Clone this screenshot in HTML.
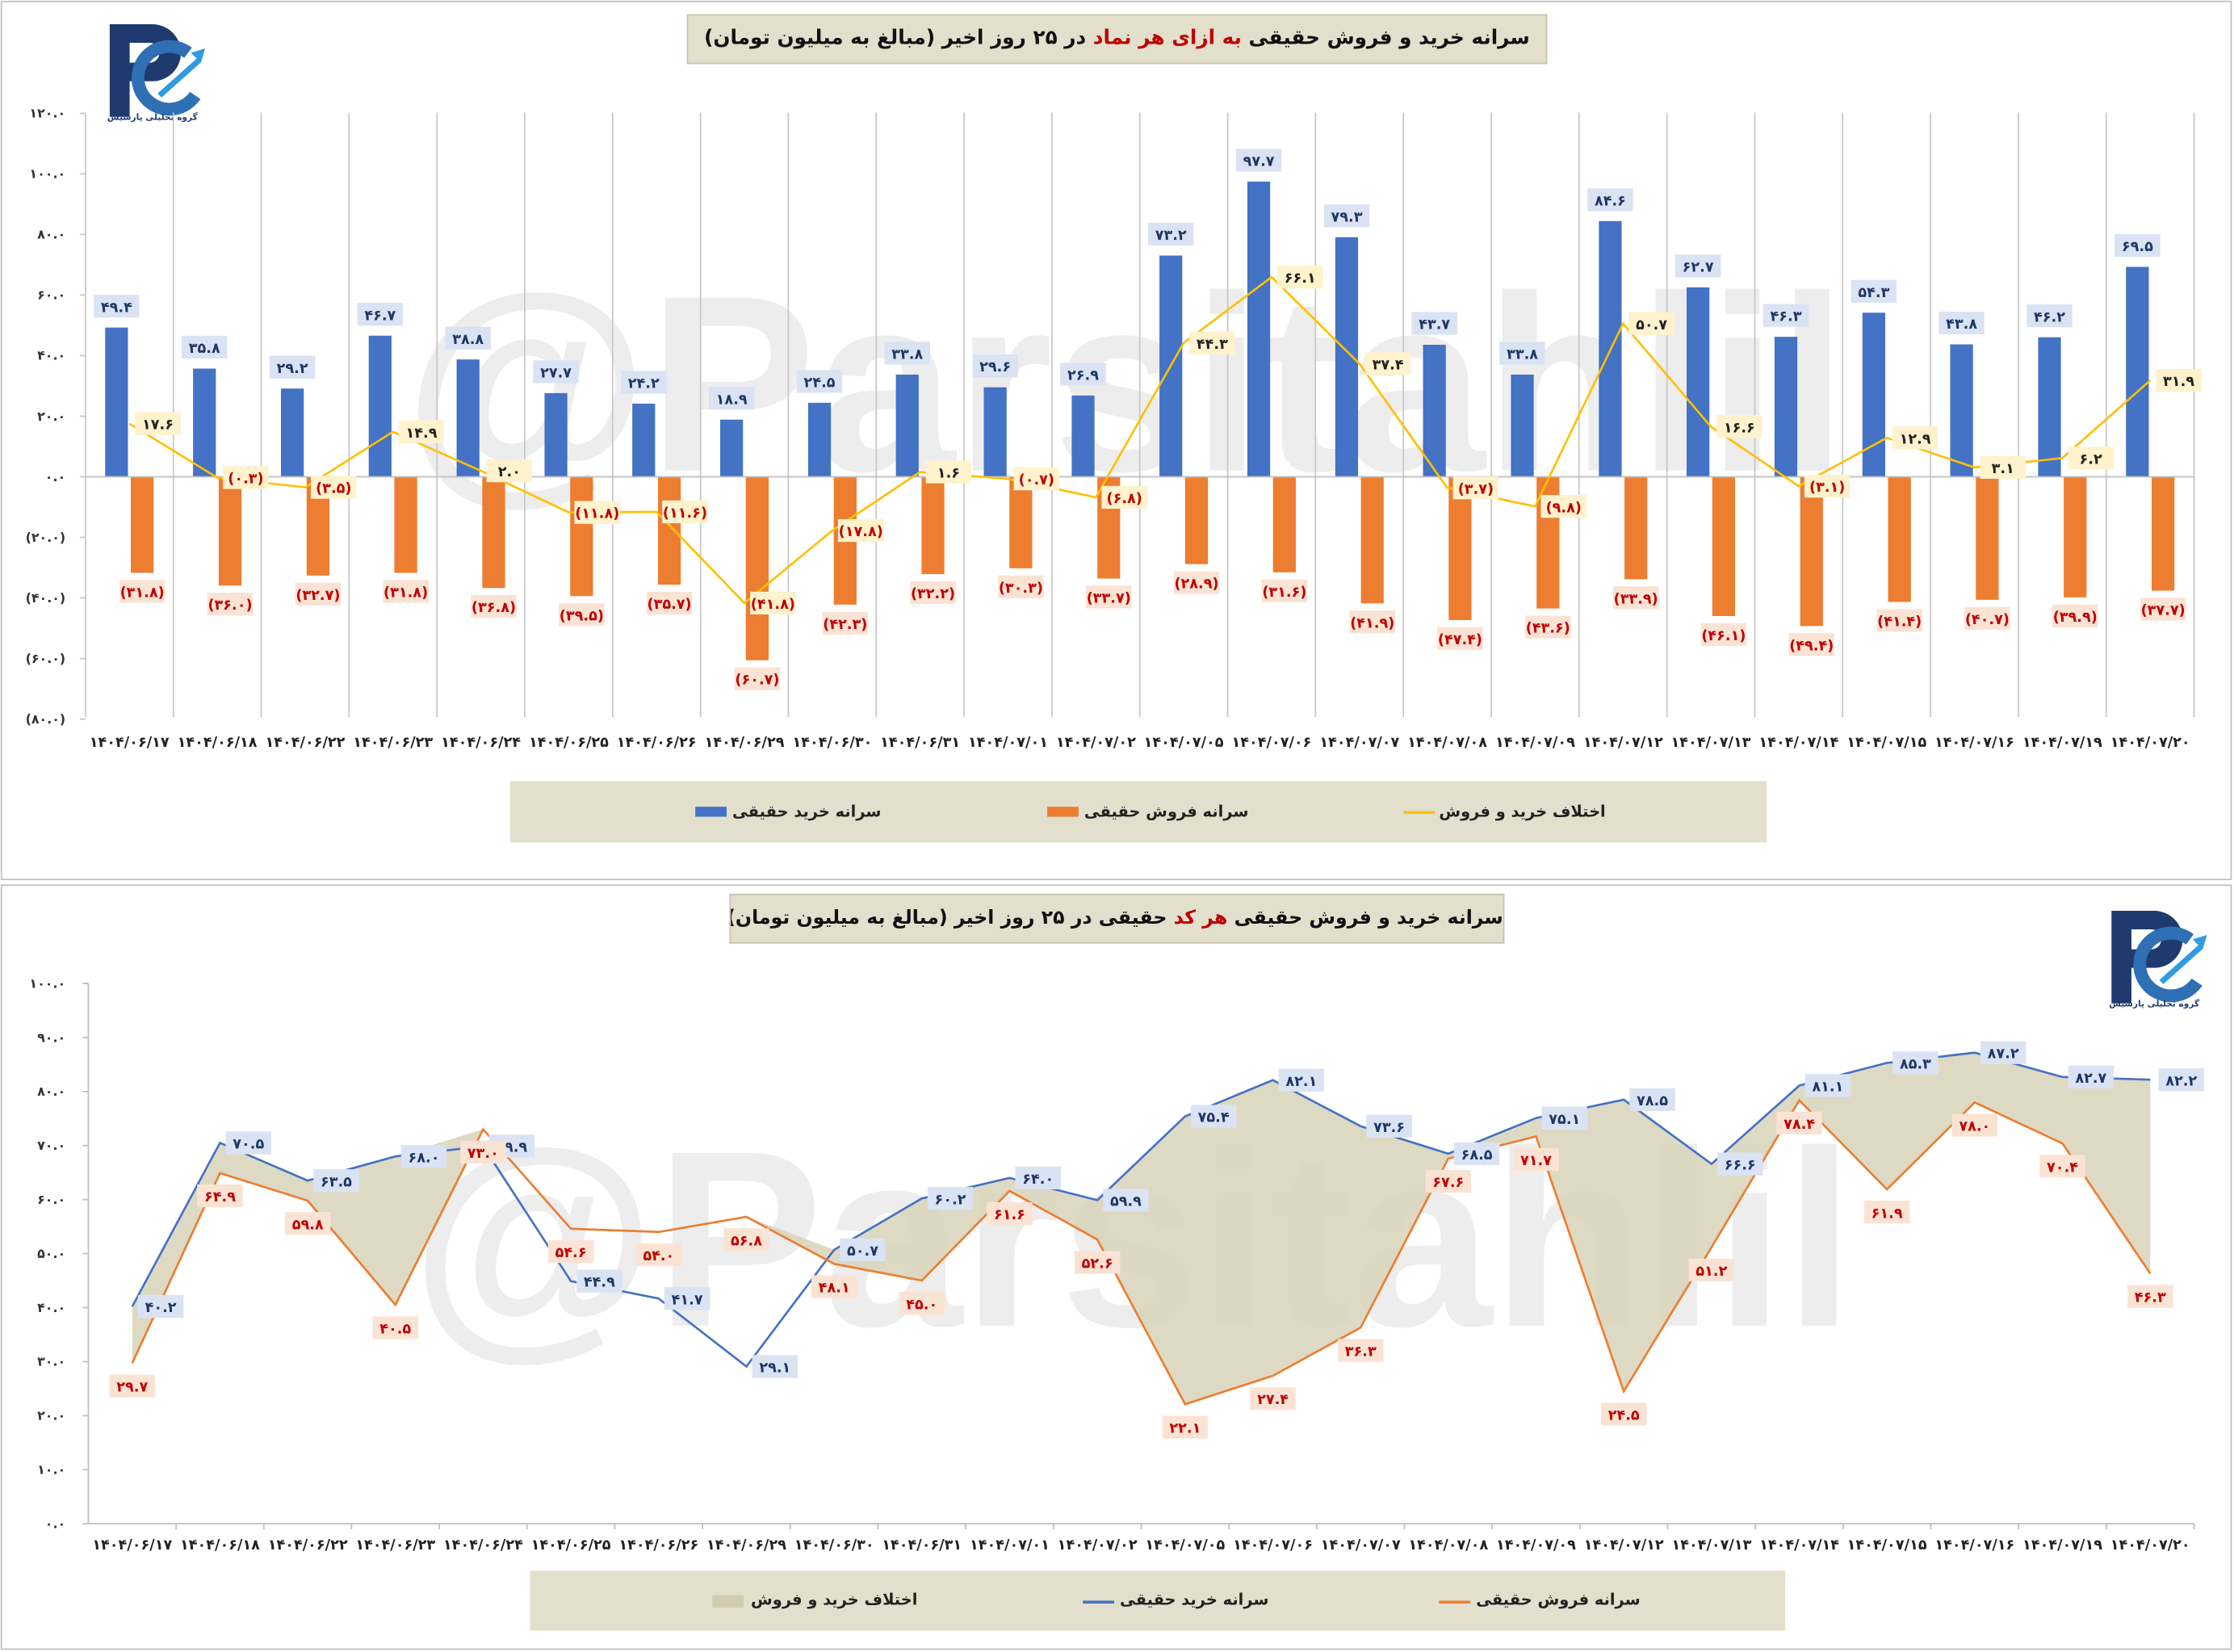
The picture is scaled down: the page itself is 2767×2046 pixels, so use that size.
<!DOCTYPE html>
<html><head><meta charset="utf-8"><style>
html,body{margin:0;padding:0;background:#fff;overflow:hidden}
#wrap{position:absolute;left:0;top:0;width:1568px;height:1159px;transform:scale(1.76467,1.76531);transform-origin:0 0;font-family:"DejaVu Sans","Liberation Sans",sans-serif}
.title{position:absolute;background:#e3dfcd;border:1px solid #c9c3ad;font-weight:bold;color:#111;text-align:center;direction:rtl;line-height:33px;white-space:nowrap;overflow:hidden}
.title b{color:#c00000}
.leg{position:absolute;background:#e3dfcd}
.li{position:absolute;font-size:11px;font-weight:bold;color:#222;direction:rtl;white-space:nowrap}
svg text{font-family:"DejaVu Sans",sans-serif;font-weight:bold}
.lb use{fill:#dae3f3}.lb text{fill:#1f3864}
.lo use{fill:#fbe3d4}.lo text{fill:#c00000}
.ly use{fill:#fff2cc}.ly text{fill:#222}
.lyr use{fill:#fff2cc}.lyr text{fill:#c00000}
.lab text{font-size:10px;text-anchor:middle}
.ax text{font-size:9px;fill:#333;text-anchor:end}
.xl text{font-size:10px;fill:#222;text-anchor:middle}
</style></head><body><div id="wrap">
<svg width="1568" height="1159" viewBox="0 0 1568 1159" style="position:absolute;left:0;top:0">
<defs><rect id="box" x="-16" y="-8" width="32" height="16"/></defs>
<rect x="1" y="1" width="1565" height="616" fill="none" stroke="#bfbfbf"/>
<rect x="1" y="621" width="1565" height="536" fill="none" stroke="#bfbfbf"/>
<text x="790" y="330" font-size="176" fill="#ededed" text-anchor="middle" style="font-family:'Liberation Sans',sans-serif">@Parsitahlil</text>
<text x="795" y="930" font-size="176" fill="#ededed" text-anchor="middle" style="font-family:'Liberation Sans',sans-serif">@Parsitahlil</text>
<g transform="translate(72,12)"><path d="M5 5h30a20 20 0 0 1 0 40h-16v25h-14z M19 18v14h14a7 7 0 0 0 0-14z" fill="#1f3a6e"/><path d="M60 25a22 22 0 1 0 5 30" fill="none" stroke="#2f6fb3" stroke-width="9"/><path d="M40 55l28-25" stroke="#2f9be0" stroke-width="4"/><path d="M62 25l10-3-3 10z" fill="#2f9be0"/><text x="35" y="72" font-size="6" fill="#1f3a6e" text-anchor="middle">گروه تحلیلی پارسیس</text></g>
<g transform="translate(1477,634)"><path d="M5 5h30a20 20 0 0 1 0 40h-16v25h-14z M19 18v14h14a7 7 0 0 0 0-14z" fill="#1f3a6e"/><path d="M60 25a22 22 0 1 0 5 30" fill="none" stroke="#2f6fb3" stroke-width="9"/><path d="M40 55l28-25" stroke="#2f9be0" stroke-width="4"/><path d="M62 25l10-3-3 10z" fill="#2f9be0"/><text x="35" y="72" font-size="6" fill="#1f3a6e" text-anchor="middle">گروه تحلیلی پارسیس</text></g>
<g stroke="#c8c8c8" stroke-width="1" fill="none">
<path d="M60 79V503M121.7 79V503M183.3 79V503M245 79V503M306.7 79V503M368.3 79V503M430 79V503M491.7 79V503M553.3 79V503M615 79V503M676.7 79V503M738.3 79V503M800 79V503M861.7 79V503M923.3 79V503M985 79V503M1046.7 79V503M1108.3 79V503M1170 79V503M1231.7 79V503M1293.3 79V503M1355 79V503M1416.7 79V503M1478.3 79V503M1540 79V503"/>
<path d="M56 79.5H60M56 122H60M56 164.5H60M56 207H60M56 249.5H60M56 292H60M56 334.5H60M56 377H60M56 419.5H60M56 462H60M56 504.5H60"/>
</g>
<g class="ax"><text x="46" y="82.5">۱۲۰.۰</text><text x="46" y="125">۱۰۰.۰</text><text x="46" y="167.5">۸۰.۰</text><text x="46" y="210">۶۰.۰</text><text x="46" y="252.5">۴۰.۰</text><text x="46" y="295">۲۰.۰</text><text x="46" y="337.5">۰.۰</text><text x="46" y="380" fill="#c00000">(۲۰.۰)</text><text x="46" y="422.5" fill="#c00000">(۴۰.۰)</text><text x="46" y="465" fill="#c00000">(۶۰.۰)</text><text x="46" y="507.5" fill="#c00000">(۸۰.۰)</text></g>
<g fill="#4472c4">
<rect x="73.8" y="229.8" width="16" height="104.7"/><rect x="135.5" y="258.6" width="16" height="75.9"/><rect x="197.2" y="272.6" width="16" height="61.9"/><rect x="258.8" y="235.5" width="16" height="99"/><rect x="320.5" y="252.2" width="16" height="82.3"/><rect x="382.2" y="275.8" width="16" height="58.7"/><rect x="443.8" y="283.2" width="16" height="51.3"/><rect x="505.5" y="294.4" width="16" height="40.1"/><rect x="567.2" y="282.6" width="16" height="51.9"/><rect x="628.8" y="262.8" width="16" height="71.7"/><rect x="690.5" y="271.7" width="16" height="62.8"/><rect x="752.2" y="277.5" width="16" height="57"/><rect x="813.8" y="179.3" width="16" height="155.2"/><rect x="875.5" y="127.4" width="16" height="207.1"/><rect x="937.2" y="166.4" width="16" height="168.1"/><rect x="998.8" y="241.9" width="16" height="92.6"/><rect x="1060.5" y="262.8" width="16" height="71.7"/><rect x="1122.2" y="155.1" width="16" height="179.4"/><rect x="1183.8" y="201.6" width="16" height="132.9"/><rect x="1245.5" y="236.3" width="16" height="98.2"/><rect x="1307.2" y="219.4" width="16" height="115.1"/><rect x="1368.8" y="241.6" width="16" height="92.9"/><rect x="1430.5" y="236.6" width="16" height="97.9"/><rect x="1492.2" y="187.2" width="16" height="147.3"/>
</g>
<g fill="#ed7d31">
<rect x="91.8" y="334.5" width="16" height="67.4"/><rect x="153.5" y="334.5" width="16" height="76.3"/><rect x="215.2" y="334.5" width="16" height="69.3"/><rect x="276.8" y="334.5" width="16" height="67.4"/><rect x="338.5" y="334.5" width="16" height="78"/><rect x="400.2" y="334.5" width="16" height="83.7"/><rect x="461.8" y="334.5" width="16" height="75.7"/><rect x="523.5" y="334.5" width="16" height="128.7"/><rect x="585.2" y="334.5" width="16" height="89.7"/><rect x="646.8" y="334.5" width="16" height="68.3"/><rect x="708.5" y="334.5" width="16" height="64.2"/><rect x="770.2" y="334.5" width="16" height="71.4"/><rect x="831.8" y="334.5" width="16" height="61.3"/><rect x="893.5" y="334.5" width="16" height="67"/><rect x="955.2" y="334.5" width="16" height="88.8"/><rect x="1016.8" y="334.5" width="16" height="100.5"/><rect x="1078.5" y="334.5" width="16" height="92.4"/><rect x="1140.2" y="334.5" width="16" height="71.9"/><rect x="1201.8" y="334.5" width="16" height="97.7"/><rect x="1263.5" y="334.5" width="16" height="104.7"/><rect x="1325.2" y="334.5" width="16" height="87.8"/><rect x="1386.8" y="334.5" width="16" height="86.3"/><rect x="1448.5" y="334.5" width="16" height="84.6"/><rect x="1510.2" y="334.5" width="16" height="79.9"/>
</g>
<line x1="60" y1="334.5" x2="1540" y2="334.5" stroke="#bfbfbf"/>
<polyline fill="none" stroke="#ffc000" stroke-width="1.5" points="90.8,297.2 152.5,335.1 214.2,341.9 275.8,302.9 337.5,330.3 399.2,359.5 460.8,359.1 522.5,423.1 584.2,372.2 645.8,331.1 707.5,336 769.2,348.9 830.8,240.6 892.5,194.4 954.2,255.2 1015.8,342.3 1077.5,355.3 1139.2,227 1200.8,299.3 1262.5,341.1 1324.2,307.2 1385.8,327.9 1447.5,321.4 1509.2,266.9"/>
<g class="lab">
<g class="lb"><g transform="translate(81.8,214.8)"><use href="#box"/><text y="4">۴۹.۴</text></g><g transform="translate(143.5,243.6)"><use href="#box"/><text y="4">۳۵.۸</text></g><g transform="translate(205.2,257.6)"><use href="#box"/><text y="4">۲۹.۲</text></g><g transform="translate(266.8,220.5)"><use href="#box"/><text y="4">۴۶.۷</text></g><g transform="translate(328.5,237.2)"><use href="#box"/><text y="4">۳۸.۸</text></g><g transform="translate(390.2,260.8)"><use href="#box"/><text y="4">۲۷.۷</text></g><g transform="translate(451.8,268.2)"><use href="#box"/><text y="4">۲۴.۲</text></g><g transform="translate(513.5,279.4)"><use href="#box"/><text y="4">۱۸.۹</text></g><g transform="translate(575.2,267.6)"><use href="#box"/><text y="4">۲۴.۵</text></g><g transform="translate(636.8,247.8)"><use href="#box"/><text y="4">۳۳.۸</text></g><g transform="translate(698.5,256.7)"><use href="#box"/><text y="4">۲۹.۶</text></g><g transform="translate(760.2,262.5)"><use href="#box"/><text y="4">۲۶.۹</text></g><g transform="translate(821.8,164.3)"><use href="#box"/><text y="4">۷۳.۲</text></g><g transform="translate(883.5,112.4)"><use href="#box"/><text y="4">۹۷.۷</text></g><g transform="translate(945.2,151.4)"><use href="#box"/><text y="4">۷۹.۳</text></g><g transform="translate(1006.8,226.9)"><use href="#box"/><text y="4">۴۳.۷</text></g><g transform="translate(1068.5,247.8)"><use href="#box"/><text y="4">۳۳.۸</text></g><g transform="translate(1130.2,140.1)"><use href="#box"/><text y="4">۸۴.۶</text></g><g transform="translate(1191.8,186.6)"><use href="#box"/><text y="4">۶۲.۷</text></g><g transform="translate(1253.5,221.3)"><use href="#box"/><text y="4">۴۶.۳</text></g><g transform="translate(1315.2,204.4)"><use href="#box"/><text y="4">۵۴.۳</text></g><g transform="translate(1376.8,226.6)"><use href="#box"/><text y="4">۴۳.۸</text></g><g transform="translate(1438.5,221.6)"><use href="#box"/><text y="4">۴۶.۲</text></g><g transform="translate(1500.2,172.2)"><use href="#box"/><text y="4">۶۹.۵</text></g></g>
<g class="lo"><g transform="translate(99.8,414.9)"><use href="#box"/><text y="4">(۳۱.۸)</text></g><g transform="translate(161.5,423.8)"><use href="#box"/><text y="4">(۳۶.۰)</text></g><g transform="translate(223.2,416.8)"><use href="#box"/><text y="4">(۳۲.۷)</text></g><g transform="translate(284.8,414.9)"><use href="#box"/><text y="4">(۳۱.۸)</text></g><g transform="translate(346.5,425.5)"><use href="#box"/><text y="4">(۳۶.۸)</text></g><g transform="translate(408.2,431.2)"><use href="#box"/><text y="4">(۳۹.۵)</text></g><g transform="translate(469.8,423.2)"><use href="#box"/><text y="4">(۳۵.۷)</text></g><g transform="translate(531.5,476.2)"><use href="#box"/><text y="4">(۶۰.۷)</text></g><g transform="translate(593.2,437.2)"><use href="#box"/><text y="4">(۴۲.۳)</text></g><g transform="translate(654.8,415.8)"><use href="#box"/><text y="4">(۳۲.۲)</text></g><g transform="translate(716.5,411.7)"><use href="#box"/><text y="4">(۳۰.۳)</text></g><g transform="translate(778.2,418.9)"><use href="#box"/><text y="4">(۳۳.۷)</text></g><g transform="translate(839.8,408.8)"><use href="#box"/><text y="4">(۲۸.۹)</text></g><g transform="translate(901.5,414.5)"><use href="#box"/><text y="4">(۳۱.۶)</text></g><g transform="translate(963.2,436.3)"><use href="#box"/><text y="4">(۴۱.۹)</text></g><g transform="translate(1024.8,448)"><use href="#box"/><text y="4">(۴۷.۴)</text></g><g transform="translate(1086.5,439.9)"><use href="#box"/><text y="4">(۴۳.۶)</text></g><g transform="translate(1148.2,419.4)"><use href="#box"/><text y="4">(۳۳.۹)</text></g><g transform="translate(1209.8,445.2)"><use href="#box"/><text y="4">(۴۶.۱)</text></g><g transform="translate(1271.5,452.2)"><use href="#box"/><text y="4">(۴۹.۴)</text></g><g transform="translate(1333.2,435.3)"><use href="#box"/><text y="4">(۴۱.۴)</text></g><g transform="translate(1394.8,433.8)"><use href="#box"/><text y="4">(۴۰.۷)</text></g><g transform="translate(1456.5,432.1)"><use href="#box"/><text y="4">(۳۹.۹)</text></g><g transform="translate(1518.2,427.4)"><use href="#box"/><text y="4">(۳۷.۷)</text></g></g>
<g class="ly"><g transform="translate(110.8,297.2)"><use href="#box"/><text y="4">۱۷.۶</text></g><g transform="translate(295.8,302.9)"><use href="#box"/><text y="4">۱۴.۹</text></g><g transform="translate(357.5,330.3)"><use href="#box"/><text y="4">۲.۰</text></g><g transform="translate(665.8,331.1)"><use href="#box"/><text y="4">۱.۶</text></g><g transform="translate(850.8,240.6)"><use href="#box"/><text y="4">۴۴.۳</text></g><g transform="translate(912.5,194.4)"><use href="#box"/><text y="4">۶۶.۱</text></g><g transform="translate(974.2,255.2)"><use href="#box"/><text y="4">۳۷.۴</text></g><g transform="translate(1159.2,227)"><use href="#box"/><text y="4">۵۰.۷</text></g><g transform="translate(1220.8,299.3)"><use href="#box"/><text y="4">۱۶.۶</text></g><g transform="translate(1344.2,307.2)"><use href="#box"/><text y="4">۱۲.۹</text></g><g transform="translate(1405.8,327.9)"><use href="#box"/><text y="4">۳.۱</text></g><g transform="translate(1467.5,321.4)"><use href="#box"/><text y="4">۶.۲</text></g><g transform="translate(1529.2,266.9)"><use href="#box"/><text y="4">۳۱.۹</text></g></g>
<g class="lyr"><g transform="translate(172.5,335.1)"><use href="#box"/><text y="4">(۰.۳)</text></g><g transform="translate(234.2,341.9)"><use href="#box"/><text y="4">(۳.۵)</text></g><g transform="translate(419.2,359.5)"><use href="#box"/><text y="4">(۱۱.۸)</text></g><g transform="translate(480.8,359.1)"><use href="#box"/><text y="4">(۱۱.۶)</text></g><g transform="translate(542.5,423.1)"><use href="#box"/><text y="4">(۴۱.۸)</text></g><g transform="translate(604.2,372.2)"><use href="#box"/><text y="4">(۱۷.۸)</text></g><g transform="translate(727.5,336)"><use href="#box"/><text y="4">(۰.۷)</text></g><g transform="translate(789.2,348.9)"><use href="#box"/><text y="4">(۶.۸)</text></g><g transform="translate(1035.8,342.3)"><use href="#box"/><text y="4">(۳.۷)</text></g><g transform="translate(1097.5,355.3)"><use href="#box"/><text y="4">(۹.۸)</text></g><g transform="translate(1282.5,341.1)"><use href="#box"/><text y="4">(۳.۱)</text></g></g>
</g>
<g class="xl">
<text x="90.8" y="524">۱۴۰۴/۰۶/۱۷</text><text x="152.5" y="524">۱۴۰۴/۰۶/۱۸</text><text x="214.2" y="524">۱۴۰۴/۰۶/۲۲</text><text x="275.8" y="524">۱۴۰۴/۰۶/۲۳</text><text x="337.5" y="524">۱۴۰۴/۰۶/۲۴</text><text x="399.2" y="524">۱۴۰۴/۰۶/۲۵</text><text x="460.8" y="524">۱۴۰۴/۰۶/۲۶</text><text x="522.5" y="524">۱۴۰۴/۰۶/۲۹</text><text x="584.2" y="524">۱۴۰۴/۰۶/۳۰</text><text x="645.8" y="524">۱۴۰۴/۰۶/۳۱</text><text x="707.5" y="524">۱۴۰۴/۰۷/۰۱</text><text x="769.2" y="524">۱۴۰۴/۰۷/۰۲</text><text x="830.8" y="524">۱۴۰۴/۰۷/۰۵</text><text x="892.5" y="524">۱۴۰۴/۰۷/۰۶</text><text x="954.2" y="524">۱۴۰۴/۰۷/۰۷</text><text x="1015.8" y="524">۱۴۰۴/۰۷/۰۸</text><text x="1077.5" y="524">۱۴۰۴/۰۷/۰۹</text><text x="1139.2" y="524">۱۴۰۴/۰۷/۱۲</text><text x="1200.8" y="524">۱۴۰۴/۰۷/۱۳</text><text x="1262.5" y="524">۱۴۰۴/۰۷/۱۴</text><text x="1324.2" y="524">۱۴۰۴/۰۷/۱۵</text><text x="1385.8" y="524">۱۴۰۴/۰۷/۱۶</text><text x="1447.5" y="524">۱۴۰۴/۰۷/۱۹</text><text x="1509.2" y="524">۱۴۰۴/۰۷/۲۰</text>
</g>
<g class="ax"><text x="46" y="693">۱۰۰.۰</text><text x="46" y="730.9">۹۰.۰</text><text x="46" y="768.8">۸۰.۰</text><text x="46" y="806.7">۷۰.۰</text><text x="46" y="844.6">۶۰.۰</text><text x="46" y="882.5">۵۰.۰</text><text x="46" y="920.4">۴۰.۰</text><text x="46" y="958.3">۳۰.۰</text><text x="46" y="996.2">۲۰.۰</text><text x="46" y="1034.1">۱۰.۰</text><text x="46" y="1072">۰.۰</text></g>
<g stroke="#bfbfbf" fill="none"><path d="M62 690V1069H1540M58 690H62M58 727.9H62M58 765.8H62M58 803.7H62M58 841.6H62M58 879.5H62M58 917.4H62M58 955.3H62M58 993.2H62M58 1031.1H62M58 1069H62"/>
<path d="M123.6 1069v4M185.2 1069v4M246.7 1069v4M308.3 1069v4M369.9 1069v4M431.5 1069v4M493.1 1069v4M554.7 1069v4M616.2 1069v4M677.8 1069v4M739.4 1069v4M801 1069v4M862.6 1069v4M924.2 1069v4M985.7 1069v4M1047.3 1069v4M1108.9 1069v4M1170.5 1069v4M1232.1 1069v4M1293.7 1069v4M1355.2 1069v4M1416.8 1069v4M1478.4 1069v4M1540 1069v4"/></g>
<polygon fill="#d8d2b9" fill-opacity="0.85" points="92.8,916.6 154.4,801.8 216,828.3 277.5,811.3 339.1,792.3 400.7,862.1 462.3,864.3 523.9,853.7 585.5,876.8 647,840.8 708.6,826.4 770.2,842 831.8,783.2 893.4,757.8 955,790.1 1016.5,809.4 1078.1,784.4 1139.7,771.5 1201.3,816.6 1262.9,761.6 1324.4,745.7 1386,738.5 1447.6,755.6 1509.2,757.5 1509.2,893.5 1447.6,802.2 1386,773.4 1324.4,834.4 1262.9,771.9 1201.3,875 1139.7,976.1 1078.1,797.3 1016.5,812.8 955,931.4 893.4,965.2 831.8,985.2 770.2,869.6 708.6,835.5 647,898.4 585.5,886.7 523.9,853.7 462.3,864.3 400.7,862.1 339.1,792.3 277.5,915.5 216,842.4 154.4,823 92.8,956.4"/>
<polyline fill="none" stroke="#4472c4" stroke-width="1.5" points="92.8,916.6 154.4,801.8 216,828.3 277.5,811.3 339.1,804.1 400.7,898.8 462.3,911 523.9,958.7 585.5,876.8 647,840.8 708.6,826.4 770.2,842 831.8,783.2 893.4,757.8 955,790.1 1016.5,809.4 1078.1,784.4 1139.7,771.5 1201.3,816.6 1262.9,761.6 1324.4,745.7 1386,738.5 1447.6,755.6 1509.2,757.5"/>
<polyline fill="none" stroke="#ed7d31" stroke-width="1.5" points="92.8,956.4 154.4,823 216,842.4 277.5,915.5 339.1,792.3 400.7,862.1 462.3,864.3 523.9,853.7 585.5,886.7 647,898.4 708.6,835.5 770.2,869.6 831.8,985.2 893.4,965.2 955,931.4 1016.5,812.8 1078.1,797.3 1139.7,976.1 1201.3,875 1262.9,771.9 1324.4,834.4 1386,773.4 1447.6,802.2 1509.2,893.5"/>
<g class="lab">
<g class="lb"><g transform="translate(112.8,916.6)"><use href="#box"/><text y="4">۴۰.۲</text></g><g transform="translate(174.4,801.8)"><use href="#box"/><text y="4">۷۰.۵</text></g><g transform="translate(236,828.3)"><use href="#box"/><text y="4">۶۳.۵</text></g><g transform="translate(297.5,811.3)"><use href="#box"/><text y="4">۶۸.۰</text></g><g transform="translate(359.1,804.1)"><use href="#box"/><text y="4">۶۹.۹</text></g><g transform="translate(420.7,898.8)"><use href="#box"/><text y="4">۴۴.۹</text></g><g transform="translate(482.3,911)"><use href="#box"/><text y="4">۴۱.۷</text></g><g transform="translate(543.9,958.7)"><use href="#box"/><text y="4">۲۹.۱</text></g><g transform="translate(605.5,876.8)"><use href="#box"/><text y="4">۵۰.۷</text></g><g transform="translate(667,840.8)"><use href="#box"/><text y="4">۶۰.۲</text></g><g transform="translate(728.6,826.4)"><use href="#box"/><text y="4">۶۴.۰</text></g><g transform="translate(790.2,842)"><use href="#box"/><text y="4">۵۹.۹</text></g><g transform="translate(851.8,783.2)"><use href="#box"/><text y="4">۷۵.۴</text></g><g transform="translate(913.4,757.8)"><use href="#box"/><text y="4">۸۲.۱</text></g><g transform="translate(975,790.1)"><use href="#box"/><text y="4">۷۳.۶</text></g><g transform="translate(1036.5,809.4)"><use href="#box"/><text y="4">۶۸.۵</text></g><g transform="translate(1098.1,784.4)"><use href="#box"/><text y="4">۷۵.۱</text></g><g transform="translate(1159.7,771.5)"><use href="#box"/><text y="4">۷۸.۵</text></g><g transform="translate(1221.3,816.6)"><use href="#box"/><text y="4">۶۶.۶</text></g><g transform="translate(1282.9,761.6)"><use href="#box"/><text y="4">۸۱.۱</text></g><g transform="translate(1344.4,745.7)"><use href="#box"/><text y="4">۸۵.۳</text></g><g transform="translate(1406,738.5)"><use href="#box"/><text y="4">۸۷.۲</text></g><g transform="translate(1467.6,755.6)"><use href="#box"/><text y="4">۸۲.۷</text></g><g transform="translate(1531,757.5)"><use href="#box"/><text y="4">۸۲.۲</text></g></g>
<g class="lo"><g transform="translate(92.8,972.4)"><use href="#box"/><text y="4">۲۹.۷</text></g><g transform="translate(154.4,839)"><use href="#box"/><text y="4">۶۴.۹</text></g><g transform="translate(216,858.4)"><use href="#box"/><text y="4">۵۹.۸</text></g><g transform="translate(277.5,931.5)"><use href="#box"/><text y="4">۴۰.۵</text></g><g transform="translate(339.1,808.3)"><use href="#box"/><text y="4">۷۳.۰</text></g><g transform="translate(400.7,878.1)"><use href="#box"/><text y="4">۵۴.۶</text></g><g transform="translate(462.3,880.3)"><use href="#box"/><text y="4">۵۴.۰</text></g><g transform="translate(523.9,869.7)"><use href="#box"/><text y="4">۵۶.۸</text></g><g transform="translate(585.5,902.7)"><use href="#box"/><text y="4">۴۸.۱</text></g><g transform="translate(647,914.4)"><use href="#box"/><text y="4">۴۵.۰</text></g><g transform="translate(708.6,851.5)"><use href="#box"/><text y="4">۶۱.۶</text></g><g transform="translate(770.2,885.6)"><use href="#box"/><text y="4">۵۲.۶</text></g><g transform="translate(831.8,1001.2)"><use href="#box"/><text y="4">۲۲.۱</text></g><g transform="translate(893.4,981.2)"><use href="#box"/><text y="4">۲۷.۴</text></g><g transform="translate(955,947.4)"><use href="#box"/><text y="4">۳۶.۳</text></g><g transform="translate(1016.5,828.8)"><use href="#box"/><text y="4">۶۷.۶</text></g><g transform="translate(1078.1,813.3)"><use href="#box"/><text y="4">۷۱.۷</text></g><g transform="translate(1139.7,992.1)"><use href="#box"/><text y="4">۲۴.۵</text></g><g transform="translate(1201.3,891)"><use href="#box"/><text y="4">۵۱.۲</text></g><g transform="translate(1262.9,787.9)"><use href="#box"/><text y="4">۷۸.۴</text></g><g transform="translate(1324.4,850.4)"><use href="#box"/><text y="4">۶۱.۹</text></g><g transform="translate(1386,789.4)"><use href="#box"/><text y="4">۷۸.۰</text></g><g transform="translate(1447.6,818.2)"><use href="#box"/><text y="4">۷۰.۴</text></g><g transform="translate(1509.2,909.5)"><use href="#box"/><text y="4">۴۶.۳</text></g></g>
</g>
<g class="xl">
<text x="92.8" y="1087">۱۴۰۴/۰۶/۱۷</text><text x="154.4" y="1087">۱۴۰۴/۰۶/۱۸</text><text x="216" y="1087">۱۴۰۴/۰۶/۲۲</text><text x="277.5" y="1087">۱۴۰۴/۰۶/۲۳</text><text x="339.1" y="1087">۱۴۰۴/۰۶/۲۴</text><text x="400.7" y="1087">۱۴۰۴/۰۶/۲۵</text><text x="462.3" y="1087">۱۴۰۴/۰۶/۲۶</text><text x="523.9" y="1087">۱۴۰۴/۰۶/۲۹</text><text x="585.5" y="1087">۱۴۰۴/۰۶/۳۰</text><text x="647" y="1087">۱۴۰۴/۰۶/۳۱</text><text x="708.6" y="1087">۱۴۰۴/۰۷/۰۱</text><text x="770.2" y="1087">۱۴۰۴/۰۷/۰۲</text><text x="831.8" y="1087">۱۴۰۴/۰۷/۰۵</text><text x="893.4" y="1087">۱۴۰۴/۰۷/۰۶</text><text x="955" y="1087">۱۴۰۴/۰۷/۰۷</text><text x="1016.5" y="1087">۱۴۰۴/۰۷/۰۸</text><text x="1078.1" y="1087">۱۴۰۴/۰۷/۰۹</text><text x="1139.7" y="1087">۱۴۰۴/۰۷/۱۲</text><text x="1201.3" y="1087">۱۴۰۴/۰۷/۱۳</text><text x="1262.9" y="1087">۱۴۰۴/۰۷/۱۴</text><text x="1324.4" y="1087">۱۴۰۴/۰۷/۱۵</text><text x="1386" y="1087">۱۴۰۴/۰۷/۱۶</text><text x="1447.6" y="1087">۱۴۰۴/۰۷/۱۹</text><text x="1509.2" y="1087">۱۴۰۴/۰۷/۲۰</text>
</g>
</svg>
<div class="title" style="left:482px;top:10px;width:602px;height:33px;font-size:14px">سرانه خرید و فروش حقیقی <b>به ازای هر نماد</b> در ۲۵ روز اخیر (مبالغ به میلیون تومان)</div>
<div class="title" style="left:512px;top:627px;width:542px;height:33px;font-size:13.4px">سرانه خرید و فروش حقیقی <b>هر کد</b> حقیقی در ۲۵ روز اخیر (مبالغ به میلیون تومان)</div>
<div class="leg" style="left:358px;top:548px;width:882px;height:43px"></div>
<div style="position:absolute;left:488px;top:566px;width:22px;height:7px;background:#4472c4"></div>
<div class="li" style="left:514px;top:563px">سرانه خرید حقیقی</div>
<div style="position:absolute;left:735px;top:566px;width:22px;height:7px;background:#ed7d31"></div>
<div class="li" style="left:761px;top:563px">سرانه فروش حقیقی</div>
<div style="position:absolute;left:985px;top:569px;width:22px;height:2px;background:#ffc000"></div>
<div class="li" style="left:1010px;top:563px">اختلاف خرید و فروش</div>
<div class="leg" style="left:372px;top:1102px;width:881px;height:42px"></div>
<div style="position:absolute;left:500px;top:1119px;width:22px;height:9px;background:#d3ccb1"></div>
<div class="li" style="left:527px;top:1116px">اختلاف خرید و فروش</div>
<div style="position:absolute;left:760px;top:1123px;width:22px;height:2px;background:#4472c4"></div>
<div class="li" style="left:786px;top:1116px">سرانه خرید حقیقی</div>
<div style="position:absolute;left:1010px;top:1123px;width:22px;height:2px;background:#ed7d31"></div>
<div class="li" style="left:1036px;top:1116px">سرانه فروش حقیقی</div>
</div></body></html>
